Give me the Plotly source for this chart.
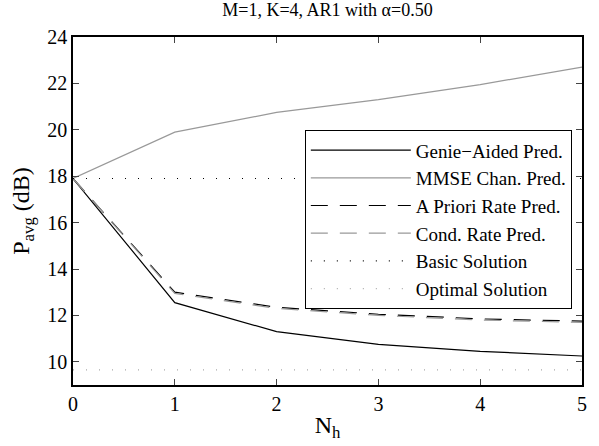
import plotly.graph_objects as go

nh = [0, 1, 2, 3, 4, 5]
genie = [17.9, 12.55, 11.3, 10.75, 10.45, 10.25]
mmse = [17.9, 19.9, 20.75, 21.3, 21.95, 22.7]
apriori = [17.9, 13.0, 12.35, 12.05, 11.85, 11.75]
cond = [17.9, 12.95, 12.3, 12.0, 11.8, 11.7]
basic = [17.9] * 6
optimal = [9.65] * 6

series = [
    ("Genie\u2212Aided Pred.", genie, "black", "solid", 1.2),
    ("MMSE Chan. Pred.", mmse, "#999999", "solid", 1.2),
    ("A Priori Rate Pred.", apriori, "black", "17px,12px", 1.2),
    ("Cond. Rate Pred.", cond, "#999999", "17px,12px", 1.2),
    ("Basic Solution", basic, "black", "1px,12px", 1.2),
    ("Optimal Solution", optimal, "#aaaaaa", "1px,12px", 1.2),
]

fig = go.Figure()
for name, y, c, d, w in series:
    fig.add_trace(go.Scatter(x=nh, y=y, mode="lines", name=name,
                             line=dict(color=c, dash=d, width=w)))

font = dict(family="Liberation Serif", size=20, color="black")
fig.update_layout(
    width=599, height=446,
    margin=dict(l=73, r=12, t=37, b=58),
    paper_bgcolor="white", plot_bgcolor="white",
    font=font,
    title=dict(text="M=1, K=4, AR1 with \u03b1=0.50", x=0.5, xref="paper",
               y=0.993, yanchor="top", font=dict(family="Liberation Serif", size=18)),
    showlegend=True,
    legend=dict(x=0.98, y=0.732, xanchor="right", yanchor="top",
                bordercolor="black", borderwidth=1, bgcolor="white",
                font=dict(family="Liberation Serif", size=19),
                tracegroupgap=0, itemwidth=100),
)
fig.update_xaxes(range=[0, 5], tickvals=nh, ticks="inside", ticklen=6,
                 showline=True, linecolor="black", linewidth=1.5, mirror="ticks",
                 showgrid=False, zeroline=False,
                 title=dict(text="N<sub>h</sub>", standoff=2))
fig.update_yaxes(range=[9, 24], tickvals=[10, 12, 14, 16, 18, 20, 22, 24],
                 ticks="inside", ticklen=6,
                 showline=True, linecolor="black", linewidth=1.5, mirror="ticks",
                 showgrid=False, zeroline=False,
                 title=dict(text="P<sub>avg</sub> (dB)", standoff=11))
fig.write_html("out.html", config={"displayModeBar": False},
               post_script="document.body.style.margin='0';document.body.style.overflow='hidden';")
